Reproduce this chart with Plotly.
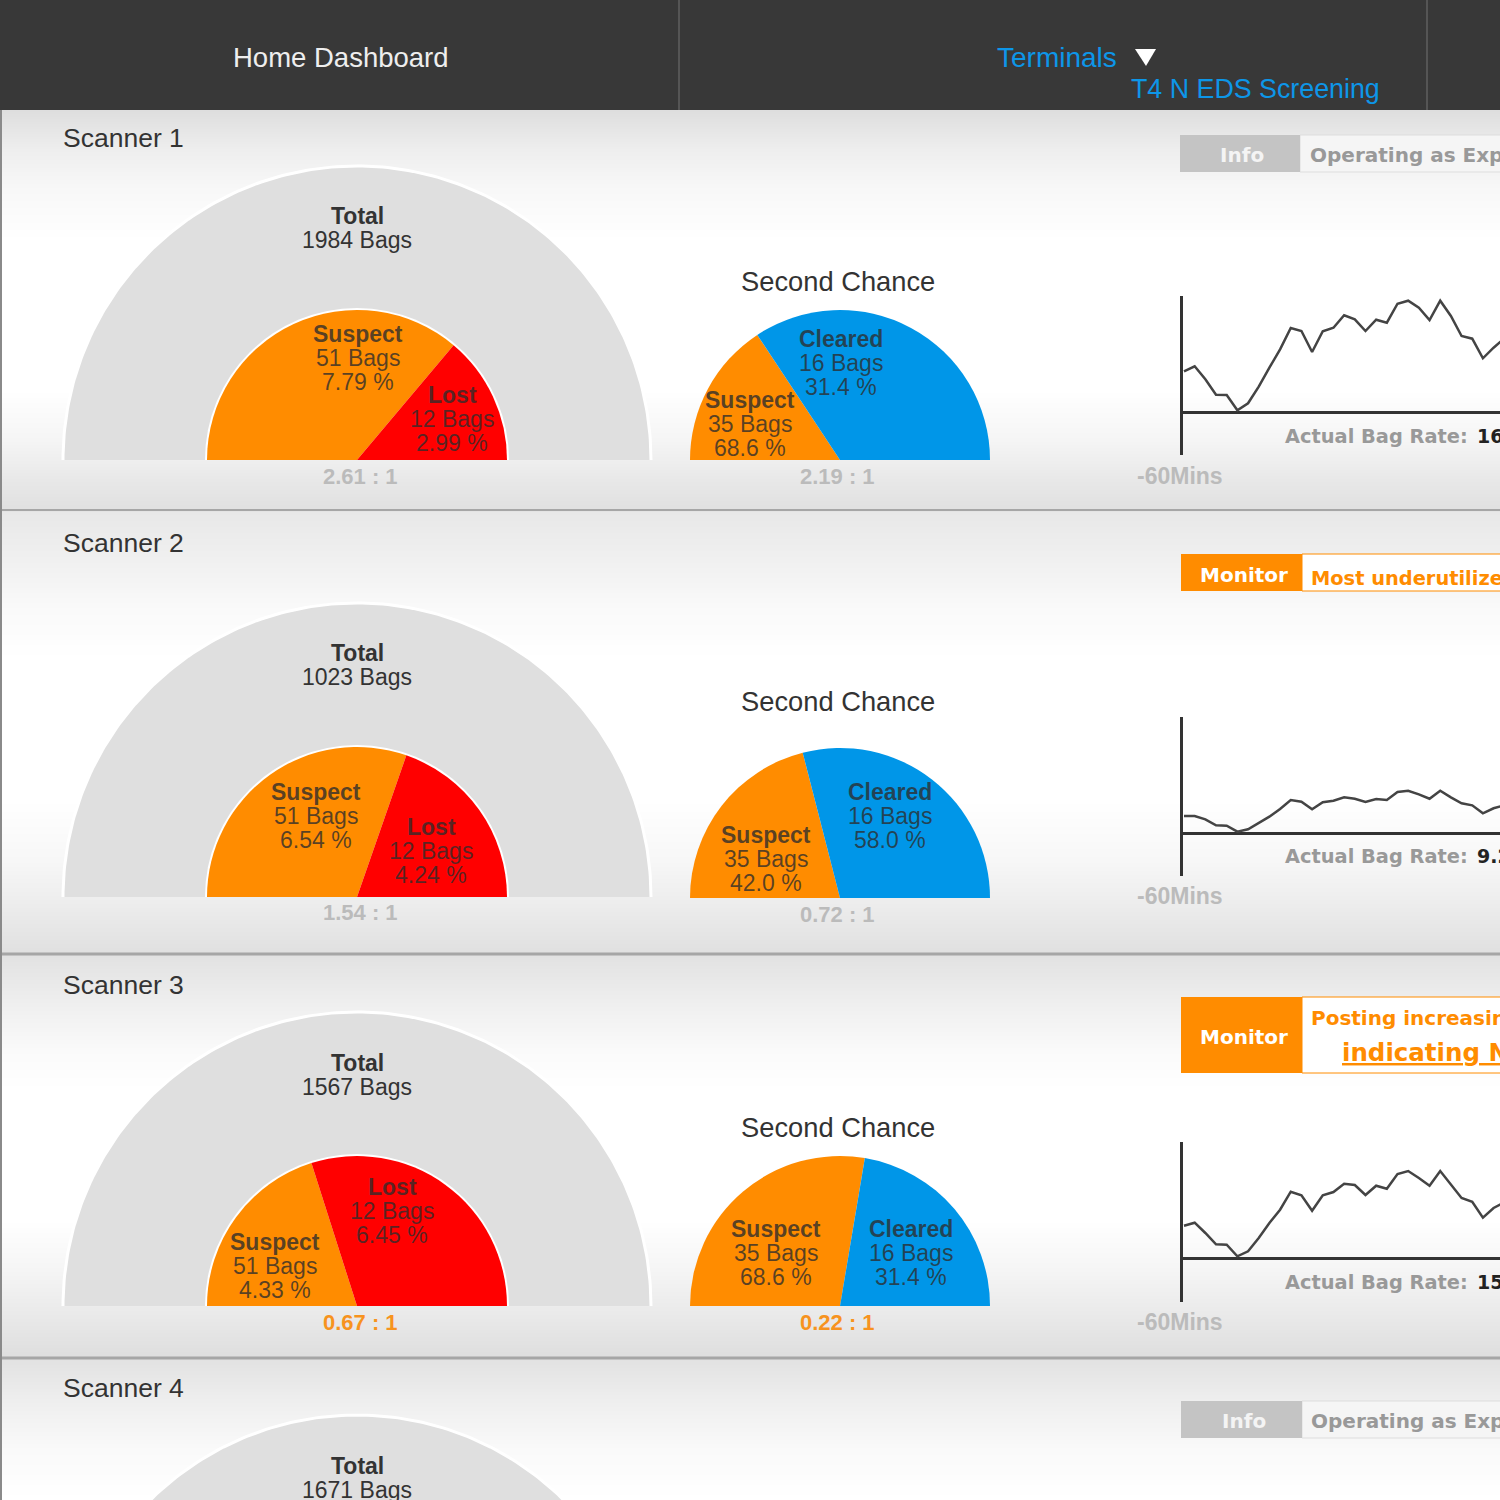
import numpy as np
import plotly.graph_objects as go

SIZE = 1500

# data
scanners = ['Scanner 1', 'Scanner 2', 'Scanner 3', 'Scanner 4']
total_bags = [1984, 1023, 1567, 1671]
suspect_bags = [51, 51, 51]
lost_bags = [12, 12, 12]
suspect_pct = [7.79, 6.54, 4.33]
lost_pct = [2.99, 4.24, 6.45]
ratios = ['2.61 : 1', '1.54 : 1', '0.67 : 1']

chance_suspect_bags = [35, 35, 35]
chance_cleared_bags = [16, 16, 16]
chance_suspect_label = ['68.6 %', '42.0 %', '68.6 %']
chance_cleared_label = ['31.4 %', '58.0 %', '31.4 %']
# the arcs as drawn do not always agree with the printed percentages
chance_suspect_arc = [31.4, 42.0, 55.3]
chance_cleared_arc = [68.6, 58.0, 44.7]
chance_ratios = ['2.19 : 1', '0.72 : 1', '0.22 : 1']

rate_labels = ['16', '9.2', '15']
rate_1 = [40.7, 45.7, 32.7, 17.3, 17.0, 1.7, 8.7, 25.3, 44.3, 62.7, 84.0, 81.0, 60.0, 80.7, 84.3, 96.7,
          92.7, 81.0, 92.3, 89.3, 108.3, 111.3, 104.3, 92.0, 111.3, 96.0, 76.0, 73.3, 53.7, 64.3, 73.7]
rate_2 = [17.0, 17.0, 13.7, 7.7, 7.3, 1.3, 3.7, 10.3, 16.3, 24.0, 33.0, 31.3, 23.7, 30.7, 32.3, 35.7,
          34.3, 31.0, 34.0, 33.0, 41.0, 42.3, 38.7, 34.3, 42.3, 35.7, 29.7, 27.7, 19.7, 24.7, 27.7]
rate_3 = [32.3, 35.3, 25.0, 13.7, 13.3, 1.7, 6.7, 20.0, 35.0, 48.3, 66.3, 62.7, 47.3, 62.7, 66.0, 74.3,
          73.0, 63.0, 72.3, 69.3, 84.0, 87.0, 80.0, 72.3, 87.0, 73.3, 60.0, 56.3, 40.3, 50.0, 55.7]
rates = [rate_1, rate_2, rate_3]

# page background: grey level at each pixel row
bg_rows = [110, 150, 190, 240, 390, 440, 480, 510,
           512, 560, 610, 660, 800, 860, 910, 953,
           956, 1000, 1050, 1090, 1220, 1270, 1320, 1357,
           1359, 1400, 1450, 1500]
bg_grey = [222, 238, 248, 255, 255, 245, 232, 224,
           232, 240, 250, 255, 255, 247, 235, 224,
           226, 238, 250, 255, 255, 245, 232, 222,
           226, 238, 250, 255]

ORANGE = '#ff8c00'
RED = '#ff0000'
BLUE = '#0096e8'
PIE_GREY = '#dfdfdf'
HEADER = '#383838'
LINK = '#0d96e8'
DARK = '#333333'
SLICE_TEXT = 'rgba(45,45,45,0.78)'
FAINT = '#bbbbbb'
FONT = 'Liberation Sans'
WIDE = 'DejaVu Sans'
CLEAR = 'rgba(0,0,0,0)'


def half_pie(cx, cy, r, values, colors):
    # last slice is the invisible lower half
    return go.Pie(
        values=list(values) + [sum(values)],
        marker=dict(colors=colors + [CLEAR], line=dict(width=0)),
        domain=dict(x=[(cx - r) / SIZE, (cx + r) / SIZE],
                    y=[1 - (cy + r) / SIZE, 1 - (cy - r) / SIZE]),
        rotation=270, direction='clockwise', sort=False,
        textinfo='none', hoverinfo='skip', showlegend=False,
    )


def dome(cx, cy, r):
    # big grey backdrops run off the page, a pie domain cannot leave the paper
    theta = np.linspace(0, np.pi, 181)
    return go.Scatter(
        x=cx + r * np.cos(theta), y=cy - r * np.sin(theta), mode='lines', fill='toself',
        fillcolor=PIE_GREY, line=dict(color='#ffffff', width=3), hoverinfo='skip', showlegend=False,
    )


fig = go.Figure()
fig.add_trace(go.Heatmap(
    x=[0, SIZE], y=bg_rows, z=[[g, g] for g in bg_grey],
    zmin=0, zmax=255, zsmooth='best', showscale=False, hoverinfo='skip',
    colorscale=[[0, '#000000'], [1, '#ffffff']],
))

annots = []
shapes = []


def text(x, y, s, size=23, color=DARK, bold=False, anchor='center', family=FONT):
    if anchor == 'left':
        x -= 2  # annotation box padding
    annots.append(dict(
        x=x, y=y, xref='x', yref='y', text='<b>' + s + '</b>' if bold else s,
        showarrow=False, xanchor=anchor, yanchor='middle',
        font=dict(family=family, size=size, color=color),
    ))


def block(x, y, title, lines, color=SLICE_TEXT):
    text(x, y, title, bold=True, color=color)
    for i, line in enumerate(lines):
        text(x, y + 24 * (i + 1), line, color=color)


def rect(x0, y0, x1, y1, fill, line=None, width=0):
    shapes.append(dict(type='rect', xref='x', yref='y', x0=x0, y0=y0, x1=x1, y1=y1,
                       fillcolor=fill, line=dict(color=line or fill, width=width)))


# layout per scanner row
base_y = [460, 897, 1306, 1709]
chance_y = [460, 898, 1306]
name_y = [138, 543, 985, 1388]
total_y = [216, 653, 1063, 1466]
suspect_xy = [(358, 334), (316, 792), (275, 1242)]
lost_xy = [(452, 395), (431, 827), (392, 1187)]
ratio_y = [476, 912, 1322]
chance_title_y = [281, 701, 1127]
cleared_xy = [(841, 339), (890, 792), (911, 1229)]
chance_suspect_xy = [(750, 400), (766, 835), (776, 1229)]
chance_ratio_y = [476, 914, 1322]
ratio_colors = [FAINT, FAINT, '#f7931e']
axis_spans = [(296, 412, 455), (717, 833, 876), (1142, 1258, 1302)]
rate_y = [436, 856, 1282]
mins_y = [476, 896, 1322]

for cy in base_y:
    fig.add_trace(dome(357, cy, 294))

for i in range(3):
    cy = base_y[i]
    fig.add_trace(half_pie(357, cy, 152, [1], ['#ffffff']))
    fig.add_trace(half_pie(357, cy, 150, [suspect_pct[i], lost_pct[i]], [ORANGE, RED]))
    fig.add_trace(half_pie(840, chance_y[i], 150, [chance_suspect_arc[i], chance_cleared_arc[i]], [ORANGE, BLUE]))

    block(*suspect_xy[i], 'Suspect', [f'{suspect_bags[i]} Bags', f'{suspect_pct[i]:.2f} %'])
    block(*lost_xy[i], 'Lost', [f'{lost_bags[i]} Bags', f'{lost_pct[i]:.2f} %'])
    text(360, ratio_y[i], ratios[i], bold=True, color=ratio_colors[i], size=22)
    text(838, chance_title_y[i], 'Second Chance', size=27.3)
    block(*cleared_xy[i], 'Cleared', [f'{chance_cleared_bags[i]} Bags', chance_cleared_label[i]])
    block(*chance_suspect_xy[i], 'Suspect', [f'{chance_suspect_bags[i]} Bags', chance_suspect_label[i]])
    text(837, chance_ratio_y[i], chance_ratios[i], bold=True, color=ratio_colors[i], size=22)

    # bag rate line on its own axes
    top, zero, bottom = axis_spans[i]
    n = i + 2
    fig.add_trace(go.Scatter(
        x=list(range(len(rates[i]))), y=rates[i], mode='lines', xaxis=f'x{n}', yaxis=f'y{n}',
        line=dict(color='#444444', width=2.5), hoverinfo='skip', showlegend=False,
    ))
    fig.update_layout({
        f'xaxis{n}': dict(domain=[1182.5 / SIZE, 1], range=[-0.14, 29.6], visible=False, anchor=f'y{n}'),
        f'yaxis{n}': dict(domain=[1 - bottom / SIZE, 1 - top / SIZE], range=[zero - bottom, zero - top],
                          anchor=f'x{n}', showticklabels=False, ticks='', showgrid=False,
                          showline=True, linecolor=DARK, linewidth=3,
                          zeroline=True, zerolinecolor=DARK, zerolinewidth=3),
    })
    text(1285, rate_y[i], 'Actual Bag Rate:', size=19.4, color='#999999', bold=True, anchor='left', family=WIDE)
    text(1477, rate_y[i], rate_labels[i], size=19, color='#222222', bold=True, anchor='left', family=WIDE)
    text(1180, mins_y[i], '-60Mins', bold=True, color=FAINT, size=23)

for i, name in enumerate(scanners):
    text(63, name_y[i], name, size=26.5, anchor='left')
    text(357, total_y[i], 'Total', bold=True)
    text(357, total_y[i] + 24, f'{total_bags[i]} Bags')

# header
rect(0, 0, SIZE, 110, HEADER)
shapes.append(dict(type='line', xref='x', yref='y', x0=679, x1=679, y0=0, y1=110, line=dict(color='#555555', width=2)))
shapes.append(dict(type='line', xref='x', yref='y', x0=1427, x1=1427, y0=0, y1=110, line=dict(color='#555555', width=2)))
shapes.append(dict(type='path', xref='x', yref='y', path='M1135,49 L1156,49 L1146,66 Z', fillcolor='#ffffff', line=dict(width=0)))
text(341, 57, 'Home Dashboard', size=27.5, color='#eeeeee')
text(997, 57, 'Terminals', size=28, color=LINK, anchor='left')
text(1131, 89, 'T4 N EDS Screening', size=26.8, color=LINK, anchor='left')

# row separators and left rule
for y, w in [(510, 2), (954, 3), (1358, 3)]:
    shapes.append(dict(type='line', xref='x', yref='y', x0=0, x1=SIZE, y0=y, y1=y, line=dict(color='#a6a6a6', width=w)))
shapes.append(dict(type='line', xref='x', yref='y', x0=1, x1=1, y0=110, y1=SIZE, line=dict(color='#8a8a8a', width=2)))

# status boxes
rect(1300, 135, SIZE + 5, 172, '#f5f5f5', '#dddddd', 1)
rect(1180, 135, 1300, 172, '#c4c4c4')
text(1242, 155, 'Info', size=20, color='#f4f4f4', bold=True, family=WIDE)
text(1310, 155, 'Operating as Expected', size=20, color='#999999', bold=True, anchor='left', family=WIDE)

rect(1302, 554, SIZE + 5, 591, '#ffffff', ORANGE, 1)
rect(1181, 554, 1302, 591, ORANGE)
text(1244, 575, 'Monitor', size=20, color='#ffffff', bold=True, family=WIDE)
text(1311, 578, 'Most underutilized', size=19.4, color=ORANGE, bold=True, anchor='left', family=WIDE)

rect(1302, 997, SIZE + 5, 1073, '#ffffff', ORANGE, 1)
rect(1181, 997, 1302, 1073, ORANGE)
text(1244, 1037, 'Monitor', size=20, color='#ffffff', bold=True, family=WIDE)
text(1311, 1018, 'Posting increasing', size=20, color=ORANGE, bold=True, anchor='left', family=WIDE)
text(1342, 1052, '<u>indicating N</u>', size=24.5, color=ORANGE, bold=True, anchor='left', family=WIDE)

rect(1302, 1401, SIZE + 5, 1438, '#f5f5f5', '#dddddd', 1)
rect(1181, 1401, 1302, 1438, '#c4c4c4')
text(1244, 1421, 'Info', size=20, color='#f4f4f4', bold=True, family=WIDE)
text(1311, 1421, 'Operating as Expected', size=20, color='#999999', bold=True, anchor='left', family=WIDE)

fig.update_layout(
    width=SIZE, height=SIZE, margin=dict(l=0, r=0, t=0, b=0, autoexpand=False),
    paper_bgcolor='#ffffff', plot_bgcolor=CLEAR,
    xaxis=dict(range=[0, SIZE], visible=False, domain=[0, 1]),
    yaxis=dict(range=[SIZE, 0], visible=False, domain=[0, 1]),
    annotations=annots, shapes=shapes,
)
fig.write_html("out.html", config={'displayModeBar': False},
               post_script="document.body.style.margin='0';document.body.style.overflow='hidden';")
